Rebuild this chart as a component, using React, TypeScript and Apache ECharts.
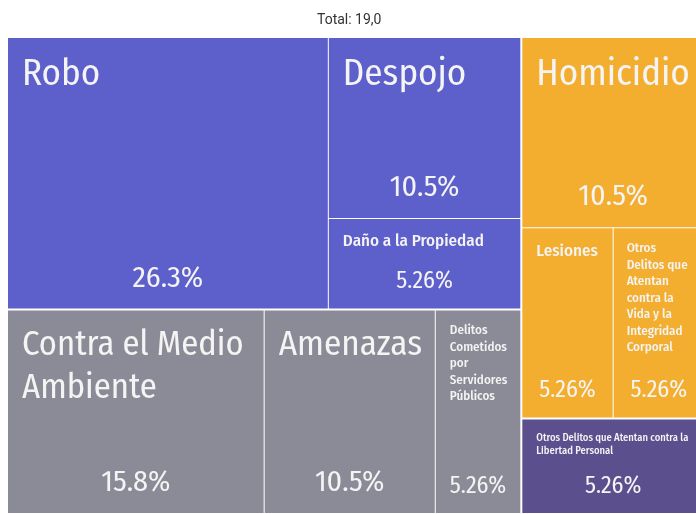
import React, { useEffect, useRef } from 'react';
import * as echarts from 'echarts';

// ---- data ----
const groupNames = ['Grupo A', 'Grupo B', 'Grupo C', 'Grupo D'];
const categories = [
  'Robo',
  'Despojo',
  'Daño a la Propiedad',
  'Contra el Medio Ambiente',
  'Amenazas',
  'Delitos Cometidos por Servidores Públicos',
  'Homicidio',
  'Lesiones',
  'Otros Delitos que Atentan contra la Vida y la Integridad Corporal',
  'Otros Delitos que Atentan contra la Libertad Personal',
];
const values = [5, 2, 1, 3, 2, 1, 2, 1, 1, 1];
const categoryGroup = [0, 0, 0, 1, 1, 1, 2, 2, 2, 3];

// ---- styles ----
const groupColors = ['#5d5fcb', '#8b8b97', '#f3ae2f', '#5c4f8e'];
const nameFont: Record<string, number> = {
  'Robo': 37,
  'Despojo': 37,
  'Daño a la Propiedad': 17,
  'Contra el Medio Ambiente': 34.5,
  'Amenazas': 35,
  'Delitos Cometidos por Servidores Públicos': 13,
  'Homicidio': 37,
  'Lesiones': 17,
  'Otros Delitos que Atentan contra la Vida y la Integridad Corporal': 13,
  'Otros Delitos que Atentan contra la Libertad Personal': 10.5,
};
const namePadRight: Record<string, number> = {
  'Otros Delitos que Atentan contra la Vida y la Integridad Corporal': 11,
};
const pctFont: Record<string, number> = {
  'Robo': 30,
  'Despojo': 30,
  'Daño a la Propiedad': 24,
  'Contra el Medio Ambiente': 30,
  'Amenazas': 30,
  'Delitos Cometidos por Servidores Públicos': 24,
  'Homicidio': 30,
  'Lesiones': 24,
  'Otros Delitos que Atentan contra la Vida y la Integridad Corporal': 24,
  'Otros Delitos que Atentan contra la Libertad Personal': 24,
};
const FONT = "'Fira Sans Condensed', 'Liberation Sans Narrow', 'DejaVu Sans Condensed', 'Roboto Condensed', sans-serif";

const total = values.reduce((a, b) => a + b, 0);
const pct = (v: number) => ((v / total) * 100).toPrecision(3) + '%';

function buildTree(kind: 'name' | 'pct') {
  return groupNames.map((g, gi) => {
    const children = categories
      .map((c, i) => ({ c, i }))
      .filter((x) => categoryGroup[x.i] === gi)
      .map(({ c, i }) => {
        const fs = kind === 'name' ? nameFont[c] : pctFont[c];
        const small = fs < 20;
        const label: any = {
          fontSize: fs,
          fontWeight: kind === 'name' && small ? 500 : 'normal',
          lineHeight: Math.round(fs * (kind === 'name' ? (small ? 1.27 : 1.25) : 1.2) * 10) / 10,
        };
        if (kind === 'name' && namePadRight[c] != null) {
          label.padding = [11, namePadRight[c], 6, 13];
        }
        return {
          name: c,
          value: values[i],
          itemStyle:
            kind === 'name'
              ? { color: groupColors[gi] }
              : { color: 'rgba(0,0,0,0)', borderColor: 'rgba(0,0,0,0)' },
          label,
        };
      });
    if (children.length === 1) return children[0];
    return {
      name: g,
      itemStyle:
        kind === 'name'
          ? { color: groupColors[gi] }
          : { color: 'rgba(0,0,0,0)', borderColor: 'rgba(0,0,0,0)' },
      children,
    };
  });
}

const common = {
  type: 'treemap',
  left: 8,
  top: 38,
  width: 696,
  height: 475,
  roam: false,
  nodeClick: false,
  sort: false,
  breadcrumb: { show: false },
  squareRatio: 0.5 * (1 + Math.sqrt(5)),
};

export default function App() {
  const ref = useRef<HTMLDivElement>(null);
  useEffect(() => {
    if (!ref.current) return;
    const chart = echarts.init(ref.current, null, { renderer: 'svg' });
    chart.setOption({
      animation: false,
      title: {
        text: 'Total: ' + total.toFixed(1).replace('.', ','),
        left: 312,
        top: 7,
        textStyle: { fontFamily: 'Roboto', fontSize: 14, fontWeight: 'normal', color: '#333' },
      },
      series: [
        {
          ...common,
          name: 'names',
          levels: [
            { itemStyle: { gapWidth: 2, borderWidth: 0, borderColor: '#fff' } },
            { itemStyle: { gapWidth: 1, borderWidth: 0, borderColor: '#fff' } },
            { itemStyle: { borderWidth: 0 } },
          ],
          label: {
            show: true,
            position: 'insideTopLeft',
            padding: [11, 3, 6, 14],
            color: '#f4f4f4',
            fontFamily: FONT,
            overflow: 'break',
            formatter: '{b}',
          },
          data: buildTree('name'),
        },
        {
          ...common,
          name: 'pct',
          silent: true,
          itemStyle: { color: 'rgba(0,0,0,0)', borderColor: 'rgba(0,0,0,0)' },
          levels: [
            { itemStyle: { gapWidth: 2, borderWidth: 0, borderColor: 'rgba(0,0,0,0)' } },
            { itemStyle: { gapWidth: 1, borderWidth: 0, borderColor: 'rgba(0,0,0,0)' } },
            { itemStyle: { borderWidth: 0 } },
          ],
          label: {
            show: true,
            position: 'insideBottom',
            padding: [6, 6, 14, 6],
            color: '#f4f4f4',
            fontFamily: FONT,
            formatter: (p: any) => pct(p.value),
          },
          data: buildTree('pct'),
        },
      ],
    });
    return () => chart.dispose();
  }, []);
  return (
    <div
      ref={ref}
      style={{ position: 'fixed', left: 0, top: 0, width: 696, height: 514 }}
    />
  );
}
